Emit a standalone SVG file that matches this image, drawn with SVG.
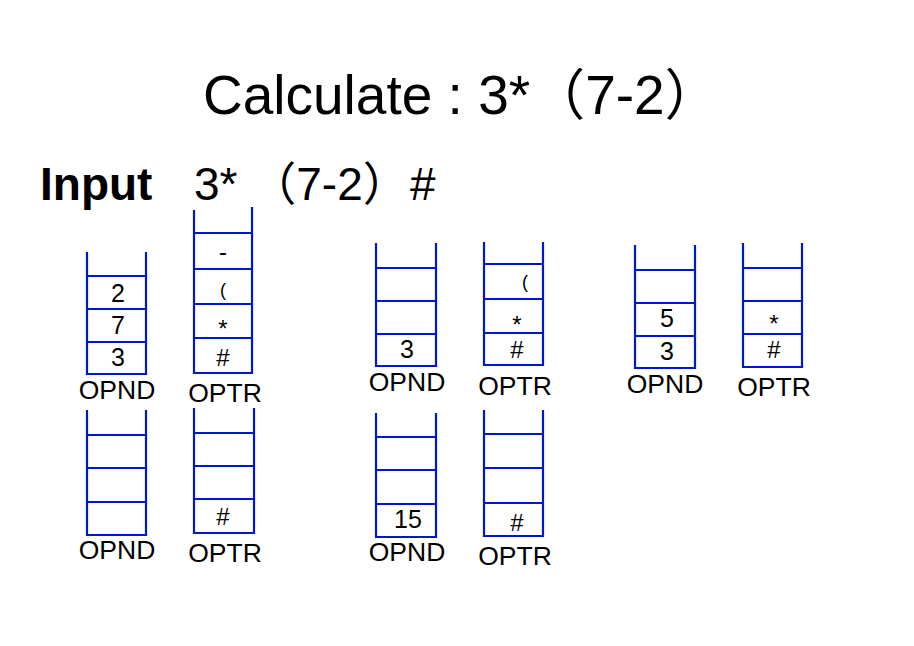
<svg xmlns="http://www.w3.org/2000/svg" width="914" height="646" viewBox="0 0 914 646">
<style>
.stk{fill:none;stroke:#0018CC;stroke-width:2.2}
.cell{font-family:"Liberation Sans",Arial,sans-serif;font-size:25px;fill:#000;text-anchor:middle}
.op{font-family:"Liberation Sans",Arial,sans-serif;font-size:24px;fill:#000;text-anchor:middle}
.paren{font-family:"Liberation Sans",Arial,sans-serif;font-size:18px;fill:#000;text-anchor:middle}
.lbl{font-family:"Liberation Sans",Arial,sans-serif;font-size:26.5px;fill:#000;text-anchor:middle}
.title{font-family:"Liberation Sans","Noto Sans CJK SC",sans-serif;font-size:55px;fill:#000}
.inp{font-family:"Liberation Sans","Noto Sans CJK SC",sans-serif;font-size:46px;fill:#000}
</style>
<rect width="914" height="646" fill="#fff"/>
<g id="title"><text class="title" x="203" y="114">Calculate : 3*（7-2）</text></g>
<g id="input">
<text class="inp" x="40" y="200" font-weight="bold">Input</text>
<text class="inp" x="194" y="200" xml:space="preserve">3* （7-2）</text>
<text class="inp" x="410" y="200">#</text>
</g>
<g id="connectors"/>
<g id="opnd1">
<path class="stk" d="M87,252V374H146V252M87,276H146M87,309H146M87,342H146"/>
<text class="cell" x="118" y="302">2</text>
<text class="cell" x="118" y="334">7</text>
<text class="cell" x="118" y="366">3</text>
<text class="lbl" x="117" y="399">OPND</text>
</g>
<g id="optr1">
<path class="stk" d="M194,210V373H252V207M194,233H252M194,269H252M194,304H252M194,338H252"/>
<text class="op" x="223" y="260">-</text>
<text class="paren" x="223" y="296">(</text>
<text class="op" x="223" y="337">*</text>
<text class="op" x="223" y="366">#</text>
<text class="lbl" x="225" y="402">OPTR</text>
</g>
<g id="opnd2">
<path class="stk" d="M376,243V366H436V243M376,268H436M376,301H436M376,334H436"/>
<text class="cell" x="407" y="358">3</text>
<text class="lbl" x="407" y="391">OPND</text>
</g>
<g id="optr2">
<path class="stk" d="M484,242V365H543V242M484,264H543M484,299H543M484,333H543"/>
<text class="paren" x="525" y="288">(</text>
<text class="op" x="517" y="333">*</text>
<text class="op" x="517" y="358">#</text>
<text class="lbl" x="515" y="395">OPTR</text>
</g>
<g id="opnd3">
<path class="stk" d="M635,245V368H695V245M635,270H695M635,303H695M635,336H695"/>
<text class="cell" x="667" y="327">5</text>
<text class="cell" x="667" y="360">3</text>
<text class="lbl" x="665" y="393">OPND</text>
</g>
<g id="optr3">
<path class="stk" d="M743,243V367H802V243M743,268H802M743,301H802M743,334H802"/>
<text class="op" x="774" y="332">*</text>
<text class="op" x="774" y="358">#</text>
<text class="lbl" x="774" y="396">OPTR</text>
</g>
<g id="opnd4">
<path class="stk" d="M87,410V535H146V410M87,435H146M87,468H146M87,502H146"/>
<text class="lbl" x="117" y="559">OPND</text>
</g>
<g id="optr4">
<path class="stk" d="M194,408V533H254V408M194,433H254M194,466H254M194,499H254"/>
<text class="op" x="223" y="525">#</text>
<text class="lbl" x="225" y="562">OPTR</text>
</g>
<g id="opnd5">
<path class="stk" d="M376,413V537H436V413M376,437H436M376,470H436M376,504H436"/>
<text class="cell" x="408" y="528">15</text>
<text class="lbl" x="407" y="561">OPND</text>
</g>
<g id="optr5">
<path class="stk" d="M484,410V536H543V410M484,434H543M484,468H543M484,503H543"/>
<text class="op" x="517" y="531">#</text>
<text class="lbl" x="515" y="565">OPTR</text>
</g>
</svg>
